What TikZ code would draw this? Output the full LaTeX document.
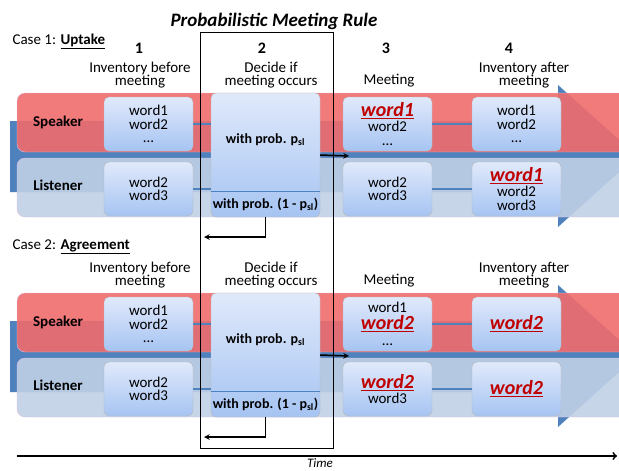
\documentclass[tikz,border=0pt]{standalone}
\usepackage{fontspec}
\setmainfont{Carlito}
\definecolor{spk}{RGB}{239,107,108}
\definecolor{lsn}{RGB}{192,208,229}
\definecolor{arrowblue}{RGB}{79,129,189}
\definecolor{wred}{RGB}{192,0,0}
\definecolor{boxtop}{RGB}{224,233,251}
\definecolor{boxbot}{RGB}{166,196,242}
\newcommand{\hw}[1]{{\color{wred}\fontsize{20}{17}\selectfont\bfseries\itshape\underline{#1}}}
\tikzset{
	wbox/.style={draw=gray!55, rounded corners=5pt, top color=boxtop, bottom color=boxbot, minimum width=89pt, minimum height=54pt, inner sep=1pt, align=center, font=\fontsize{15}{13.5}\selectfont},
	dbox/.style={wbox, minimum width=109pt, minimum height=124pt},
	role/.style={font=\fontsize{15}{15}\selectfont\bfseries},
	head/.style={align=center, font=\fontsize{15}{13}\selectfont},
	link/.style={arrowblue, line width=1.2pt},
	band/.style={rounded corners=8pt, fill opacity=0.9, draw=white!75!violet, line width=0.4pt},
}
\begin{document}
\begin{tikzpicture}[>=stealth,x=1pt,y=-1pt]
		\useasboundingbox (0,0) rectangle (619,471);
		\clip (0,0) rectangle (619,471);
		\node[font=\fontsize{19}{19}\selectfont\bfseries\itshape] (title) at (274,21) {Probabilistic Meeting Rule};
		\node[anchor=west, font=\fontsize{15}{15}\selectfont] (case1) at (9,41) {Case 1: \textbf{\underline{Uptake}}};
		\node[anchor=west, font=\fontsize{15}{15}\selectfont] (case2) at (9,247) {Case 2: \textbf{\underline{Agreement}}};
		\foreach \n/\x in {1/139,2/262,3/386,4/509}
			\node[font=\fontsize{16}{16}\selectfont\bfseries] (num\n) at (\x,48) {\n};
		
		\foreach \c/\oy in {1/0,2/200}{
		\begin{scope}[yshift=-\oy pt]
		% time arrow behind the two rows
		\fill[arrowblue] (10,121) -- (558,121) -- (558,85) -- (637,156) -- (558,227) -- (558,192) -- (10,192) -- cycle;
		\filldraw[band, fill=spk] (17,93) rectangle (650,152);
		\filldraw[band, fill=lsn] (17,158) rectangle (650,217);
		\node[role] (spk\c) at (58,122) {Speaker};
		\node[role] (lsn\c) at (58,185) {Listener};
		\node[head] (h1\c) at (140,75) {Inventory before\\meeting};
		\node[head] (h2\c) at (271,75) {Decide if\\meeting occurs};
		\node[head] (h3\c) at (389,81) {Meeting};
		\node[head] (h4\c) at (524,75) {Inventory after\\meeting};
		\node[wbox] (b1s\c) at (148.5,124) {word1\\word2\\...};
		\node[wbox] (b1l\c) at (148.5,189) {word2\\word3};
		\node[dbox] (d\c) at (265.5,155) {};
		\draw[link] ([yshift=26pt]d\c.south west) -- ([yshift=26pt]d\c.south east);
		\node[font=\fontsize{14}{14}\selectfont\bfseries] (pa\c) at ([yshift=-47pt]d\c.north) {with prob. p\textsubscript{sl}};
		\node[font=\fontsize{14}{14}\selectfont\bfseries] (pb\c) at ([yshift=13pt]d\c.south) {with prob. (1 - p\textsubscript{sl})};
		\draw[link] (b1s\c.east) -- (b1s\c.east -| d\c.west);
		\draw[link] (b1l\c.east) -- (b1l\c.east -| d\c.west);
		\coordinate (go\c) at (349,156);
		\coordinate (back\c) at (204,237);
		\draw[->,line width=1.5pt] (d\c.east) -- (go\c);
		\draw[->,line width=1.5pt] (d\c.south) |- (back\c);
		\end{scope}
		}
		
		\node[wbox] (b3s1) at (387.5,124) {\hw{word1}\\[2pt]word2\\...};
		\node[wbox] (b3l1) at (387.5,189) {word2\\word3};
		\node[wbox] (b4s1) at (516.5,124) {word1\\word2\\...};
		\node[wbox] (b4l1) at (516.5,189) {\hw{word1}\\[2pt]word2\\word3};
		\node[wbox] (b3s2) at (387.5,324) {word1\\[2pt]\hw{word2}\\[2pt]...};
		\node[wbox] (b3l2) at (387.5,389) {\hw{word2}\\[2pt]word3};
		\node[wbox] (b4s2) at (516.5,324) {\hw{word2}};
		\node[wbox] (b4l2) at (516.5,389) {\hw{word2}};
		\foreach \c in {1,2}{
			\draw[link] (b3s\c) -- (b4s\c);
			\draw[link] (b3l\c) -- (b4l\c);
		}
		
		\draw[line width=0.9pt] (200,32) rectangle (333,448);
		\coordinate (t0) at (17,456);
		\coordinate (t1) at (617,456);
		\draw[line width=1.8pt,-to] (t0) -- (t1);
		\node[font=\fontsize{13}{13}\selectfont\itshape] (time) at (320,463.5) {Time};
		
		\end{tikzpicture}
\end{document}
